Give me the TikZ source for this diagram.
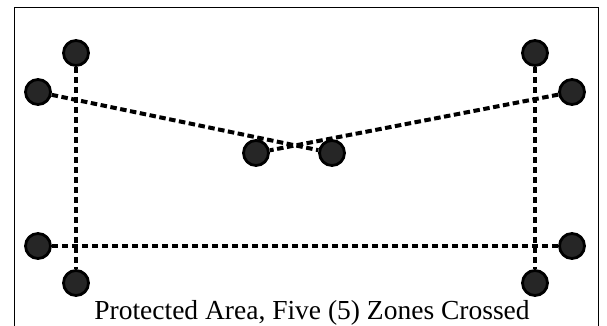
\documentclass[tikz,border=0pt]{standalone}
\usepackage{fontspec}
\setmainfont{Liberation Serif}
\usepackage{amssymb,amsmath}

\begin{document}
\begin{tikzpicture}[x=1pt,y=-1pt,
        sensor/.style={circle,draw=black,fill=black!85,line width=2.8pt,minimum size=25pt,inner sep=0pt},
        beam/.style={line width=4pt,dash pattern=on 6.5pt off 3.5pt}]
        \useasboundingbox (0,0) rectangle (607,326);
        \draw[line width=1.8pt] (14.5,340) -- (14.5,7.5) -- (598.5,7.5) -- (598.5,340);
        % beam ends
        \node[sensor] (v1a) at (76,53) {};
        \node[sensor] (v1b) at (76,283) {};
        \node[sensor] (v2a) at (535,53) {};
        \node[sensor] (v2b) at (535,283) {};
        \node[sensor] (h1a) at (38,92) {};
        \node[sensor] (h1b) at (332,153) {};
        \node[sensor] (h2a) at (572,92) {};
        \node[sensor] (h2b) at (256,153) {};
        \node[sensor] (h3a) at (38,246) {};
        \node[sensor] (h3b) at (572,246) {};
        % beams
        \draw[beam] (v1a) -- (v1b);
        \draw[beam] (v2a) -- (v2b);
        \draw[beam] (h1a) -- (h1b);
        \draw[beam] (h2a) -- (h2b);
        \draw[beam] (h3a) -- (h3b);
        \node[anchor=base,font=\fontsize{27.5}{30}\selectfont] (cap) at (312,319) {Protected Area, Five (5) Zones Crossed};
        \end{tikzpicture}
\end{document}
